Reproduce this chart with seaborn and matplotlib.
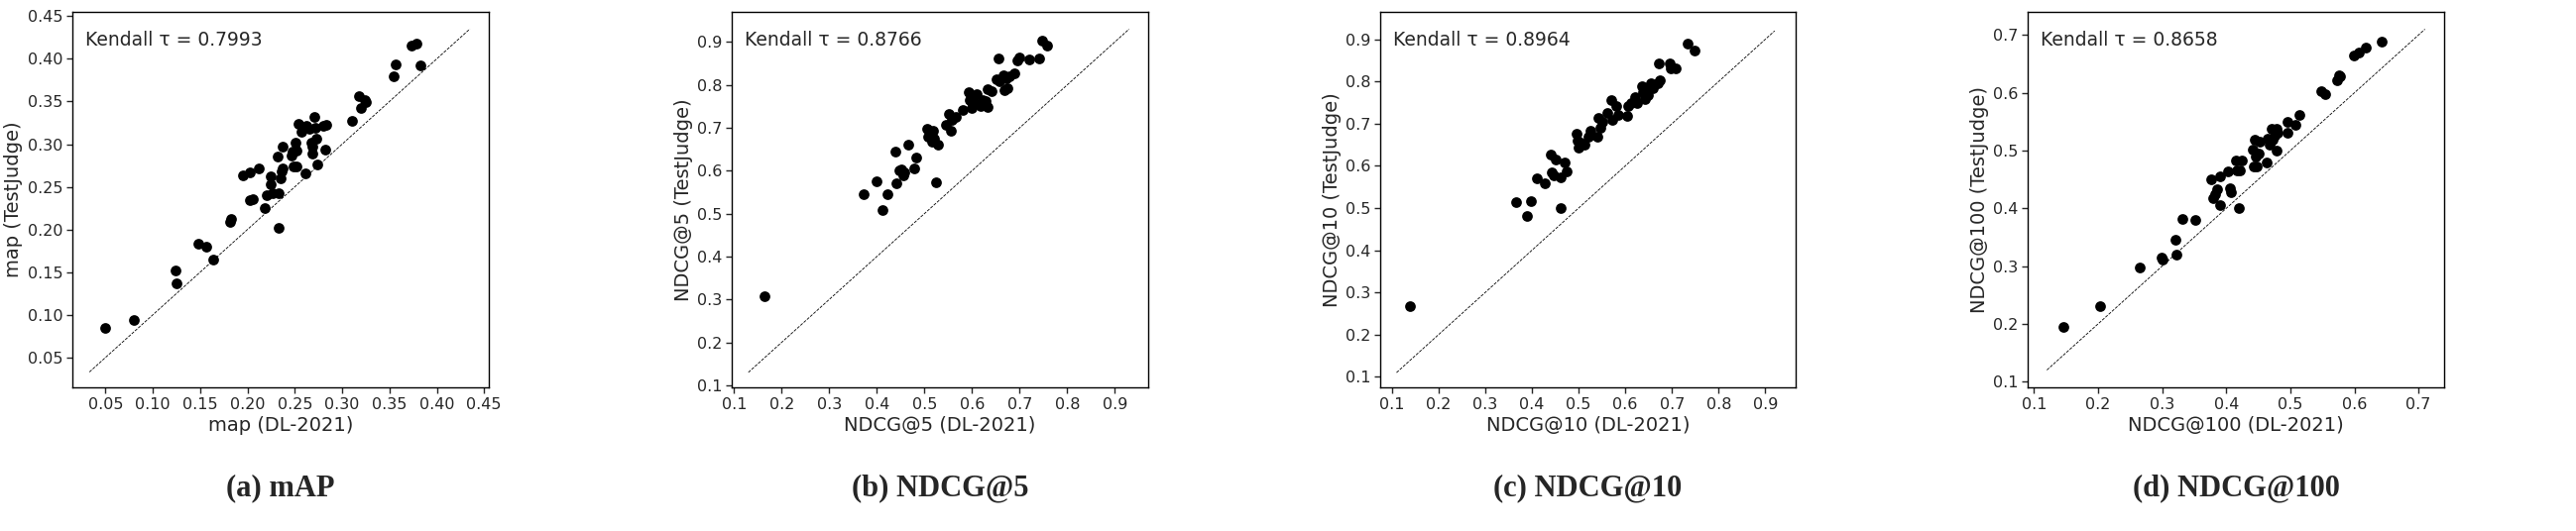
import numpy as np
import pandas as pd
import matplotlib
matplotlib.use("Agg")
import matplotlib.pyplot as plt
import seaborn as sns

# values
map_dl = [0.05, 0.08, 0.124, 0.125, 0.148, 0.156, 0.164, 0.182, 0.183, 0.195, 0.203, 0.203, 0.206, 0.212,
          0.218, 0.220, 0.224, 0.224, 0.227, 0.232, 0.233, 0.233, 0.235, 0.236, 0.237, 0.237, 0.247, 0.248,
          0.249, 0.251, 0.252, 0.252, 0.254, 0.257, 0.261, 0.262, 0.265, 0.267, 0.268, 0.269, 0.271, 0.272,
          0.273, 0.274, 0.280, 0.283, 0.282, 0.310, 0.318, 0.320, 0.324, 0.325, 0.354, 0.357, 0.373, 0.378, 0.383]
map_tj = [0.085, 0.094, 0.152, 0.137, 0.183, 0.180, 0.165, 0.209, 0.212, 0.263, 0.267, 0.234, 0.236, 0.271,
          0.225, 0.240, 0.262, 0.253, 0.243, 0.285, 0.242, 0.202, 0.260, 0.268, 0.272, 0.297, 0.287, 0.291,
          0.274, 0.302, 0.274, 0.292, 0.324, 0.314, 0.266, 0.321, 0.318, 0.302, 0.289, 0.297, 0.332, 0.319,
          0.306, 0.276, 0.322, 0.323, 0.294, 0.327, 0.356, 0.342, 0.352, 0.349, 0.380, 0.394, 0.416, 0.418, 0.392]

n5_dl = [0.163, 0.372, 0.400, 0.412, 0.422, 0.438, 0.440, 0.448, 0.452, 0.455, 0.458, 0.465, 0.478, 0.482,
         0.505, 0.507, 0.512, 0.515, 0.518, 0.520, 0.524, 0.528, 0.545, 0.552, 0.555, 0.558, 0.565, 0.580,
         0.592, 0.594, 0.600, 0.603, 0.610, 0.618, 0.622, 0.628, 0.632, 0.632, 0.640, 0.652, 0.656, 0.658,
         0.665, 0.667, 0.672, 0.675, 0.678, 0.688, 0.695, 0.700, 0.720, 0.740, 0.747, 0.758]
n5_tj = [0.307, 0.545, 0.575, 0.508, 0.545, 0.645, 0.570, 0.600, 0.603, 0.590, 0.597, 0.660, 0.605, 0.630,
         0.698, 0.680, 0.690, 0.668, 0.693, 0.675, 0.572, 0.660, 0.707, 0.733, 0.693, 0.718, 0.725, 0.742,
         0.782, 0.765, 0.745, 0.760, 0.778, 0.750, 0.765, 0.762, 0.748, 0.790, 0.785, 0.812, 0.862, 0.808,
         0.823, 0.788, 0.815, 0.793, 0.820, 0.828, 0.858, 0.863, 0.860, 0.862, 0.903, 0.892]

n10_dl = [0.138, 0.367, 0.390, 0.398, 0.410, 0.427, 0.441, 0.443, 0.447, 0.450, 0.462, 0.462, 0.470, 0.475,
          0.495, 0.498, 0.500, 0.505, 0.513, 0.520, 0.525, 0.540, 0.542, 0.546, 0.550, 0.562, 0.570, 0.572,
          0.580, 0.585, 0.603, 0.606, 0.612, 0.620, 0.625, 0.635, 0.638, 0.642, 0.645, 0.648, 0.652, 0.655,
          0.660, 0.670, 0.672, 0.675, 0.695, 0.697, 0.707, 0.734, 0.748]
n10_tj = [0.267, 0.514, 0.482, 0.516, 0.570, 0.558, 0.626, 0.585, 0.578, 0.615, 0.572, 0.499, 0.608, 0.588,
          0.676, 0.660, 0.643, 0.655, 0.650, 0.670, 0.683, 0.670, 0.713, 0.690, 0.705, 0.726, 0.755, 0.708,
          0.743, 0.720, 0.718, 0.742, 0.750, 0.762, 0.750, 0.790, 0.775, 0.758, 0.785, 0.768, 0.790, 0.797,
          0.784, 0.795, 0.843, 0.802, 0.843, 0.830, 0.832, 0.890, 0.873]

n100_dl = [0.145, 0.203, 0.265, 0.299, 0.300, 0.320, 0.322, 0.332, 0.352, 0.377, 0.380, 0.382, 0.385, 0.390,
           0.391, 0.402, 0.405, 0.408, 0.415, 0.417, 0.420, 0.421, 0.424, 0.442, 0.443, 0.444, 0.446, 0.448,
           0.450, 0.452, 0.463, 0.465, 0.467, 0.470, 0.472, 0.475, 0.478, 0.478, 0.480, 0.495, 0.495, 0.508,
           0.514, 0.548, 0.555, 0.573, 0.576, 0.578, 0.599, 0.607, 0.617, 0.643]
n100_tj = [0.195, 0.230, 0.297, 0.315, 0.312, 0.345, 0.319, 0.381, 0.380, 0.451, 0.418, 0.424, 0.433, 0.455,
           0.406, 0.464, 0.435, 0.428, 0.482, 0.466, 0.400, 0.465, 0.482, 0.502, 0.472, 0.518, 0.490, 0.473,
           0.495, 0.515, 0.480, 0.520, 0.510, 0.538, 0.518, 0.525, 0.537, 0.500, 0.530, 0.550, 0.530, 0.544,
           0.561, 0.602, 0.597, 0.621, 0.630, 0.628, 0.665, 0.670, 0.678, 0.688]

metrics = ["map", "NDCG@5", "NDCG@10", "NDCG@100"]
taus = ["0.7993", "0.8766", "0.8964", "0.8658"]
captions = ["(a) mAP", "(b) NDCG@5", "(c) NDCG@10", "(d) NDCG@100"]
xs = [map_dl, n5_dl, n10_dl, n100_dl]
ys = [map_tj, n5_tj, n10_tj, n100_tj]

sns.set_style("white")
plt.rcParams['font.family'] = ['DejaVu Sans']

W, H = 2598, 536
fig = plt.figure(figsize=(W / 100, H / 100), dpi=100)

# axes boxes in pixels (left, right), shared top/bottom
boxes = [(73, 493), (738, 1158), (1392, 1811), (2045, 2465)]
top, bottom = 12, 391
lims = [(0.015, 0.455), (0.095, 0.97), (0.075, 0.965), (0.09, 0.74)]
diag = [(0.033, 0.435), (0.13, 0.93), (0.11, 0.92), (0.12, 0.71)]
ticks = [np.arange(0.05, 0.451, 0.05), np.arange(0.1, 0.91, 0.1), np.arange(0.1, 0.91, 0.1), np.arange(0.1, 0.71, 0.1)]
fmt = ["{:.2f}", "{:.1f}", "{:.1f}", "{:.1f}"]

for i in range(4):
    l, r = boxes[i]
    ax = fig.add_axes([l / W, 1 - bottom / H, (r - l) / W, (bottom - top) / H])
    df = pd.DataFrame({"dl": xs[i], "tj": ys[i]})
    sns.scatterplot(data=df, x="dl", y="tj", ax=ax, color="black", s=60, edgecolor="black", linewidth=0)
    ax.plot(diag[i], diag[i], color="black", linestyle="--", linewidth=0.6)
    ax.set_xlim(lims[i])
    ax.set_ylim(lims[i])
    ax.set_xticks(ticks[i])
    ax.set_yticks(ticks[i])
    ax.set_xticklabels([fmt[i].format(t) for t in ticks[i]], fontsize=11.5)
    ax.set_yticklabels([fmt[i].format(t) for t in ticks[i]], fontsize=11.5)
    ax.tick_params(direction="out", length=4, width=1, left=True, bottom=True, pad=3)
    ax.set_xlabel(f"{metrics[i]} (DL-2021)", fontsize=14, labelpad=3)
    ax.set_ylabel(f"{metrics[i]} (TestJudge)", fontsize=14, labelpad=3)
    for sp in ax.spines.values():
        sp.set_color("black")
        sp.set_linewidth(1)
    ax.text(0.03, 0.95, f"Kendall τ = {taus[i]}", transform=ax.transAxes, fontsize=13.5, va="top")
    fig.text((l + r) / 2 / W, 1 - 493 / H, captions[i], ha="center", va="center", fontsize=22,
             fontweight="bold", family=["Liberation Serif", "DejaVu Serif"])

fig.savefig("out.png", dpi=100)
